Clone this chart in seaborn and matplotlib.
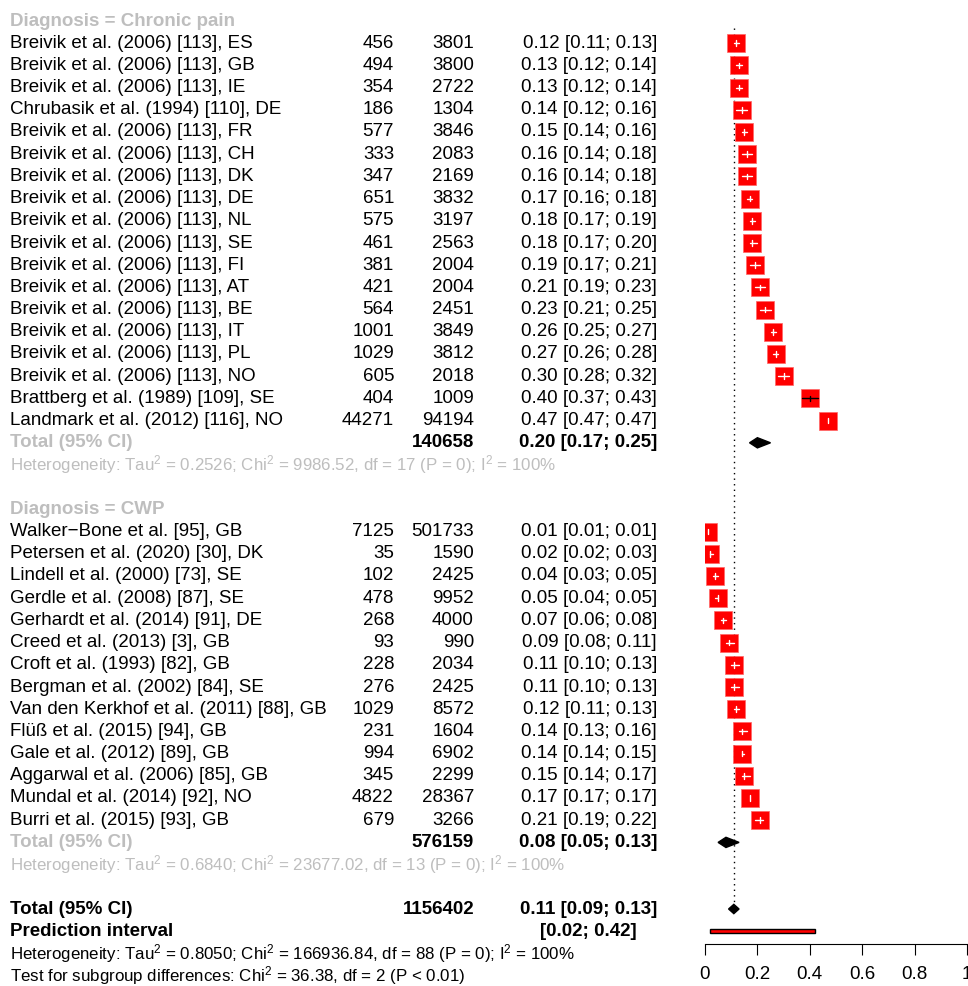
import numpy as np
import pandas as pd
import seaborn as sns
import matplotlib.pyplot as plt
from matplotlib.transforms import blended_transform_factory

# ---- data ----
cp_study = ["Breivik et al. (2006) [113], ES", "Breivik et al. (2006) [113], GB",
            "Breivik et al. (2006) [113], IE", "Chrubasik et al. (1994) [110], DE",
            "Breivik et al. (2006) [113], FR", "Breivik et al. (2006) [113], CH",
            "Breivik et al. (2006) [113], DK", "Breivik et al. (2006) [113], DE",
            "Breivik et al. (2006) [113], NL", "Breivik et al. (2006) [113], SE",
            "Breivik et al. (2006) [113], FI", "Breivik et al. (2006) [113], AT",
            "Breivik et al. (2006) [113], BE", "Breivik et al. (2006) [113], IT",
            "Breivik et al. (2006) [113], PL", "Breivik et al. (2006) [113], NO",
            "Brattberg et al. (1989) [109], SE", "Landmark et al. (2012) [116], NO"]
cp_events = [456, 494, 354, 186, 577, 333, 347, 651, 575, 461, 381, 421, 564, 1001, 1029, 605, 404, 44271]
cp_total = [3801, 3800, 2722, 1304, 3846, 2083, 2169, 3832, 3197, 2563, 2004, 2004, 2451, 3849, 3812, 2018, 1009, 94194]
cp_est = [0.12, 0.13, 0.13, 0.14, 0.15, 0.16, 0.16, 0.17, 0.18, 0.18, 0.19, 0.21, 0.23, 0.26, 0.27, 0.30, 0.40, 0.47]
cp_lo = [0.11, 0.12, 0.12, 0.12, 0.14, 0.14, 0.14, 0.16, 0.17, 0.17, 0.17, 0.19, 0.21, 0.25, 0.26, 0.28, 0.37, 0.47]
cp_hi = [0.13, 0.14, 0.14, 0.16, 0.16, 0.18, 0.18, 0.18, 0.19, 0.20, 0.21, 0.23, 0.25, 0.27, 0.28, 0.32, 0.43, 0.47]

cwp_study = ["Walker\u2212Bone et al. [95], GB", "Petersen et al. (2020) [30], DK",
             "Lindell et al. (2000) [73], SE", "Gerdle et al. (2008) [87], SE",
             "Gerhardt et al. (2014) [91], DE", "Creed et al. (2013) [3], GB",
             "Croft et al. (1993) [82], GB", "Bergman et al. (2002) [84], SE",
             "Van den Kerkhof et al. (2011) [88], GB", "Flüß et al. (2015) [94], GB",
             "Gale et al. (2012) [89], GB", "Aggarwal et al. (2006) [85], GB",
             "Mundal et al. (2014) [92], NO", "Burri et al. (2015) [93], GB"]
cwp_events = [7125, 35, 102, 478, 268, 93, 228, 276, 1029, 231, 994, 345, 4822, 679]
cwp_total = [501733, 1590, 2425, 9952, 4000, 990, 2034, 2425, 8572, 1604, 6902, 2299, 28367, 3266]
cwp_est = [0.01, 0.02, 0.04, 0.05, 0.07, 0.09, 0.11, 0.11, 0.12, 0.14, 0.14, 0.15, 0.17, 0.21]
cwp_lo = [0.01, 0.02, 0.03, 0.04, 0.06, 0.08, 0.10, 0.10, 0.11, 0.13, 0.14, 0.14, 0.17, 0.19]
cwp_hi = [0.01, 0.03, 0.05, 0.05, 0.08, 0.11, 0.13, 0.13, 0.13, 0.16, 0.15, 0.17, 0.17, 0.22]

groups = ["Chronic pain", "CWP"]
group_n = [140658, 576159]
group_est = [0.20, 0.08]
group_lo = [0.17, 0.05]
group_hi = [0.25, 0.13]
group_het = [("0.2526", "9986.52", 17), ("0.6840", "23677.02", 13)]

overall_n = 1156402
overall_est, overall_lo, overall_hi = 0.11, 0.09, 0.13
pi_lo, pi_hi = 0.02, 0.42
overall_het = ("0.8050", "166936.84", 88)
subgroup_test = ("36.38", 2, "P < 0.01")

xticks = [0, 0.2, 0.4, 0.6, 0.8, 1]
xticklabels = ["0", "0.2", "0.4", "0.6", "0.8", "1"]

# ---- style ----
sns.set_theme(style="white")
plt.rcParams["font.family"] = ["Liberation Sans", "DejaVu Sans"]
plt.rcParams["mathtext.fontset"] = "custom"
plt.rcParams["mathtext.rm"] = "Liberation Sans"
plt.rcParams["mathtext.it"] = "Liberation Sans"
GRAY = "#BEBEBE"
FS = 13.5
FS_HET = 12.2

W, H = 968, 986
fig = plt.figure(figsize=(W / 100, H / 100), dpi=100)
row_px0, row_step = 21, 22.2
ax_top, ax_bot = 0, 944
ax = fig.add_axes([705 / W, 1 - ax_bot / H, 262 / W, (ax_bot - ax_top) / H])
ax.set_xlim(0, 1)
ax.set_ylim((ax_bot - row_px0) / row_step, (ax_top - row_px0) / row_step)

tr = blended_transform_factory(fig.transFigure, ax.transData)


def txt(px, row, s, ha="left", color="black", weight="normal", size=FS):
    ax.text(px / W, row, s, transform=tr, ha=ha, va="center", color=color,
            fontweight=weight, fontsize=size, clip_on=False)


def het_str(tau, chi, df):
    return (r"Heterogeneity: Tau$^2$ = " + tau + r"; Chi$^2$ = " + chi +
            ", df = " + str(df) + r" (P = 0); I$^2$ = 100%")


# build study table with row positions
frames = []
row = 0
group_rows = []
for g, (st, ev, tot, es, lo, hi) in enumerate(
        [(cp_study, cp_events, cp_total, cp_est, cp_lo, cp_hi),
         (cwp_study, cwp_events, cwp_total, cwp_est, cwp_lo, cwp_hi)]):
    header_row = row
    rows = list(range(row + 1, row + 1 + len(st)))
    frames.append(pd.DataFrame({"study": st, "events": ev, "total": tot,
                                "est": es, "lo": lo, "hi": hi, "row": rows}))
    total_row = rows[-1] + 1
    group_rows.append((header_row, total_row))
    row = total_row + 3
df = pd.concat(frames, ignore_index=True)
overall_row = row

# squares
sns.scatterplot(data=df, x="est", y="row", marker="s", s=150, color="red",
                edgecolor="#ff6666", linewidth=0.5, ax=ax, zorder=3, legend=False)
# confidence intervals (white inside the square, black when wider)
for _, r in df.iterrows():
    c = "white" if (r["hi"] - r["lo"]) < 0.055 else "black"
    ax.plot([r["lo"], r["hi"]], [r["row"], r["row"]], color=c, lw=1, zorder=4)
    ax.plot([r["est"], r["est"]], [r["row"] - 0.13, r["row"] + 0.13], color=c, lw=1, zorder=4)


def diamond(est, lo, hi, y, h=0.23):
    ax.fill([lo, est, hi, est], [y, y - h, y, y + h], color="black", zorder=4)


# reference line
ax.plot([overall_est, overall_est], [0.3, overall_row], color="black", ls=(0, (1, 3)), lw=1, zorder=1)

# text columns
for _, r in df.iterrows():
    txt(10, r["row"], r["study"])
    txt(394, r["row"], f"{r['events']}", ha="right")
    txt(474, r["row"], f"{r['total']}", ha="right")
    txt(657, r["row"], f"{r['est']:.2f} [{r['lo']:.2f}; {r['hi']:.2f}]", ha="right")

for g, (hr, trow) in enumerate(group_rows):
    txt(10, hr, f"Diagnosis = {groups[g]}", color=GRAY, weight="bold")
    txt(10, trow, "Total (95% CI)", color=GRAY, weight="bold")
    txt(474, trow, f"{group_n[g]}", ha="right", weight="bold")
    txt(657, trow, f"{group_est[g]:.2f} [{group_lo[g]:.2f}; {group_hi[g]:.2f}]", ha="right", weight="bold")
    txt(10, trow + 1, het_str(*group_het[g]), color=GRAY, size=FS_HET)
    diamond(group_est[g], group_lo[g], group_hi[g], trow)

txt(10, overall_row, "Total (95% CI)", weight="bold")
txt(474, overall_row, f"{overall_n}", ha="right", weight="bold")
txt(657, overall_row, f"{overall_est:.2f} [{overall_lo:.2f}; {overall_hi:.2f}]", ha="right", weight="bold")
diamond(overall_est, overall_lo, overall_hi, overall_row, h=0.21)
txt(10, overall_row + 1, "Prediction interval", weight="bold")
txt(637, overall_row + 1, f"[{pi_lo:.2f}; {pi_hi:.2f}]", ha="right", weight="bold")
ax.barh(overall_row + 1, pi_hi - pi_lo, left=pi_lo, height=0.2, color="red",
        edgecolor="black", linewidth=1, zorder=3)
txt(10, overall_row + 2, het_str(*overall_het), size=FS_HET)
txt(10, overall_row + 3, r"Test for subgroup differences: Chi$^2$ = " + subgroup_test[0] +
    f", df = {subgroup_test[1]} ({subgroup_test[2]})", size=FS_HET)

# axis
for s in ["top", "left", "right"]:
    ax.spines[s].set_visible(False)
ax.spines["bottom"].set_color("black")
ax.spines["bottom"].set_linewidth(0.8)
ax.set_xticks(xticks)
ax.set_xticklabels(xticklabels, fontsize=FS)
ax.set_yticks([])
ax.tick_params(axis="x", direction="out", length=8, width=0.8, pad=8, bottom=True, colors="black")
ax.set_xlabel("")
ax.set_ylabel("")
ax.patch.set_alpha(0)

fig.savefig("out.png", dpi=100)
